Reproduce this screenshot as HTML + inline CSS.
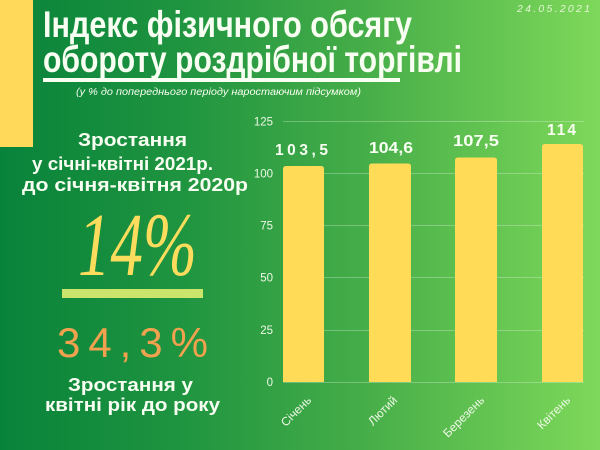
<!DOCTYPE html>
<html>
<head>
<meta charset="utf-8">
<style>
html,body{margin:0;padding:0;width:600px;height:450px;overflow:hidden;background:#2a9a40;}
svg{display:block;}
</style>
</head>
<body>
<svg width="600" height="450" viewBox="0 0 600 450" xmlns="http://www.w3.org/2000/svg">
<defs>
<linearGradient id="bg" x1="0" y1="0" x2="1" y2="0">
<stop offset="0" stop-color="#08833a"/>
<stop offset="0.3" stop-color="#1f9440"/>
<stop offset="0.6" stop-color="#45ad48"/>
<stop offset="1" stop-color="#7ed85a"/>
</linearGradient>
</defs>
<rect x="0" y="0" width="600" height="450" fill="url(#bg)"/>
<rect x="0" y="0" width="33" height="147" fill="#ffd95a"/>

<g font-family="'Liberation Sans', 'DejaVu Sans', sans-serif" fill="#f8fff2">
<text x="43" y="37" font-size="37" font-weight="bold" textLength="369" lengthAdjust="spacingAndGlyphs">Індекс фізичного обсягу</text>
<text x="43" y="72" font-size="37" font-weight="bold" textLength="419" lengthAdjust="spacingAndGlyphs">обороту роздрібної торгівлі</text>
<rect x="43" y="78" width="357" height="4" fill="#f8fff2"/>
<text x="76" y="95" font-size="10" font-style="italic" textLength="285" lengthAdjust="spacingAndGlyphs">(у % до попереднього періоду наростаючим підсумком)</text>
<text x="517" y="12" font-size="10.5" font-style="italic" fill="#e4f5d6" textLength="73" lengthAdjust="spacing">24.05.2021</text>

<text x="78" y="146" font-size="18" font-weight="bold" textLength="109" lengthAdjust="spacingAndGlyphs">Зростання</text>
<text x="32" y="170" font-size="18" font-weight="bold" textLength="181" lengthAdjust="spacingAndGlyphs">у січні-квітні 2021р.</text>
<text x="22" y="191" font-size="18" font-weight="bold" textLength="226" lengthAdjust="spacingAndGlyphs">до січня-квітня 2020р</text>

<text x="78" y="275" font-family="'Liberation Serif', serif" font-style="italic" font-size="90" fill="#fbdc5c" textLength="119" lengthAdjust="spacingAndGlyphs">14%</text>
<rect x="62" y="289" width="141" height="9" fill="#cbe56c"/>

<text x="57" y="357" font-size="42" fill="#f2a24e" textLength="151" lengthAdjust="spacing">34,3%</text>

<text x="68" y="391" font-size="18" font-weight="bold" textLength="125" lengthAdjust="spacingAndGlyphs">Зростання у</text>
<text x="45" y="411" font-size="18" font-weight="bold" textLength="175" lengthAdjust="spacingAndGlyphs">квітні рік до року</text>
</g>

<!-- chart -->
<g stroke="#ffffff" stroke-opacity="0.28" stroke-width="1">
<line x1="283" y1="121.5" x2="584" y2="121.5"/>
<line x1="283" y1="173.5" x2="584" y2="173.5"/>
<line x1="283" y1="225.5" x2="584" y2="225.5"/>
<line x1="283" y1="277.5" x2="584" y2="277.5"/>
<line x1="283" y1="330.5" x2="584" y2="330.5"/>
<line x1="283" y1="382.5" x2="584" y2="382.5"/>
</g>
<g font-family="'Liberation Sans', sans-serif" font-size="11.5" fill="#eef8e6" text-anchor="end">
<text x="273" y="125.5">125</text>
<text x="273" y="177.5">100</text>
<text x="273" y="229.5">75</text>
<text x="273" y="281.5">50</text>
<text x="273" y="334">25</text>
<text x="273" y="386">0</text>
</g>
<g fill="#ffdb58">
<path d="M283 382 V169 Q283 166 286 166 H321 Q324 166 324 169 V382 Z"/>
<path d="M369 382 V166.5 Q369 163.5 372 163.5 H408 Q411 163.5 411 166.5 V382 Z"/>
<path d="M455 382 V160.5 Q455 157.5 458 157.5 H494 Q497 157.5 497 160.5 V382 Z"/>
<path d="M542 382 V147 Q542 144 545 144 H580 Q583 144 583 147 V382 Z"/>
</g>
<g font-family="'Liberation Sans', sans-serif" font-weight="bold" font-size="15.5" fill="#f8fff2">
<text x="275" y="155" textLength="53" lengthAdjust="spacing">103,5</text>
<text x="369" y="153" textLength="44" lengthAdjust="spacingAndGlyphs">104,6</text>
<text x="453" y="146" textLength="46" lengthAdjust="spacingAndGlyphs">107,5</text>
<text x="547" y="135" textLength="29" lengthAdjust="spacing">114</text>
</g>
<g font-family="'Liberation Sans', sans-serif" font-size="12" fill="#eef8e6" text-anchor="end">
<text transform="translate(312,401) rotate(-45)">Січень</text>
<text transform="translate(398,401) rotate(-45)">Лютий</text>
<text transform="translate(485,401) rotate(-45)">Березень</text>
<text transform="translate(571,401) rotate(-45)">Квітень</text>
</g>
</svg>
</body>
</html>
